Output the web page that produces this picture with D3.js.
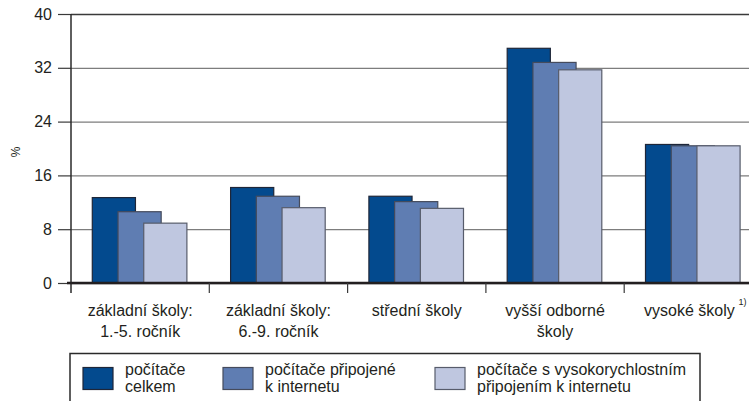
<!DOCTYPE html>
<html>
<head>
<meta charset="utf-8">
<script src="https://cdn.jsdelivr.net/npm/d3@7"></script>
<style>
    body { margin: 0; background: #fff; }
    text { font-family: "Liberation Sans", Arial, sans-serif; fill: #231f20; }
</style>
</head>
<body>
<div id="chart"></div>
<script>
// data
var categories = ["zs1", "zs2", "ss", "vos", "vs"];
var categoryLines = [
    ["základní školy:", "1.-5. ročník"],
    ["základní školy:", "6.-9. ročník"],
    ["střední školy"],
    ["vyšší odborné", "školy"],
    ["vysoké školy"]
];
var seriesNames = [
    ["počítače", "celkem"],
    ["počítače připojené", "k internetu"],
    ["počítače s vysokorychlostním", "připojením k internetu"]
];
var pcTotal = [12.7, 14.2, 12.9, 34.9, 20.6];
var pcInternet = [10.6, 12.9, 12.1, 32.8, 20.4];
var pcBroadband = [8.9, 11.2, 11.1, 31.7, 20.4];
var yTicks = [0, 8, 16, 24, 32, 40];
var colors = ["#034a8e", "#5f7db2", "#bfc7e0"];
var strokes = ["#1e2638", "#454b5c", "#575c6b"];

var series = [pcTotal, pcInternet, pcBroadband];

var svgWidth = 749;
var svgHeight = 401;

var margin = { top: 14, left: 71 };
var width = 691.5;
var height = 269;

var svg = d3.select("#chart")
    .append("svg")
    .attr("width", svgWidth)
    .attr("height", svgHeight);

var chartGroup = svg.append("g")
    .attr("transform", `translate(${margin.left}, ${margin.top})`);

var xBand = d3.scaleBand()
    .domain(categories)
    .range([0, width])
    .padding(0);

var bw = xBand.bandwidth();
var barWidth = bw * 0.312;
var xInner = d3.scaleLinear()
    .domain([0, 2])
    .range([bw * 0.154, bw * 0.154 + bw * 0.372]);

var yScale = d3.scaleLinear()
    .domain([0, 40])
    .range([height, 0]);

// gridlines
var grid = chartGroup.append("g")
    .call(d3.axisLeft(yScale).tickValues(yTicks).tickSize(-width).tickFormat(""));
grid.select(".domain").remove();
grid.selectAll("line")
    .attr("stroke", d => d === 40 ? "#3a3a3a" : "#7d7d7d")
    .attr("stroke-width", 1.3);

// y axis
var yAxis = chartGroup.append("g")
    .call(d3.axisLeft(yScale).tickValues(yTicks).tickSize(13).tickPadding(6));
yAxis.select(".domain").remove();
yAxis.selectAll("line").attr("stroke", "#3a3a3a").attr("stroke-width", 1.2);
yAxis.selectAll("text")
    .style("font-size", "16px")
    .attr("fill", "#231f20");

chartGroup.append("line")
    .attr("x1", 0).attr("x2", 0)
    .attr("y1", 0).attr("y2", height + 10)
    .attr("stroke", "#2a2a2a")
    .attr("stroke-width", 1.5);

// bars
series.forEach(function (values, i) {
    chartGroup.append("g")
        .selectAll("rect")
        .data(values)
        .enter()
        .append("rect")
        .attr("x", (d, j) => xBand(categories[j]) + xInner(i))
        .attr("y", d => yScale(d))
        .attr("width", barWidth)
        .attr("height", d => height - yScale(d))
        .attr("fill", colors[i])
        .attr("stroke", strokes[i])
        .attr("stroke-width", 1.2);
});

// baseline + category ticks
chartGroup.append("line")
    .attr("x1", -4).attr("x2", width)
    .attr("y1", height).attr("y2", height)
    .attr("stroke", "#231f20")
    .attr("stroke-width", 2.5);

chartGroup.selectAll(".catTick")
    .data(categories.slice(1))
    .enter()
    .append("line")
    .attr("x1", d => xBand(d)).attr("x2", d => xBand(d))
    .attr("y1", height).attr("y2", height + 10)
    .attr("stroke", "#3a3a3a")
    .attr("stroke-width", 1.2);

// category labels
var labels = chartGroup.selectAll(".catLabel")
    .data(categories)
    .enter()
    .append("text")
    .attr("text-anchor", "middle")
    .attr("y", height + 33)
    .style("font-size", "16px");

labels.each(function (d, i) {
    var t = d3.select(this);
    // last label sits a bit left to leave room for the footnote mark
    var cx = xBand(d) + bw / 2 - (i === 4 ? 4 : 0);
    categoryLines[i].forEach(function (line, k) {
        t.append("tspan")
            .attr("x", cx)
            .attr("dy", k === 0 ? 0 : 21)
            .text(line);
    });
});

chartGroup.append("text")
    .attr("x", 667.5)
    .attr("y", height + 22)
    .style("font-size", "9px")
    .text("1)");

// y label
svg.append("text")
    .attr("transform", "translate(20, 152) rotate(-90)")
    .attr("text-anchor", "middle")
    .style("font-size", "12px")
    .attr("fill", "#444")
    .text("%");

// legend
var legend = svg.append("g");
legend.append("rect")
    .attr("x", 70).attr("y", 353.5)
    .attr("width", 630).attr("height", 60)
    .attr("fill", "none")
    .attr("stroke", "#2a2a2a")
    .attr("stroke-width", 1.5);

var legendX = [83, 223, 435];
seriesNames.forEach(function (lines, i) {
    legend.append("rect")
        .attr("x", legendX[i]).attr("y", 367.5)
        .attr("width", 30).attr("height", 22)
        .attr("fill", colors[i])
        .attr("stroke", strokes[i])
        .attr("stroke-width", 1.2);
    var t = legend.append("text")
        .attr("x", legendX[i] + 42)
        .attr("y", 375)
        .style("font-size", "16px");
    lines.forEach(function (line, k) {
        t.append("tspan")
            .attr("x", legendX[i] + 42)
            .attr("dy", k === 0 ? 0 : 16.5)
            .text(line);
    });
});
</script>
</body>
</html>
